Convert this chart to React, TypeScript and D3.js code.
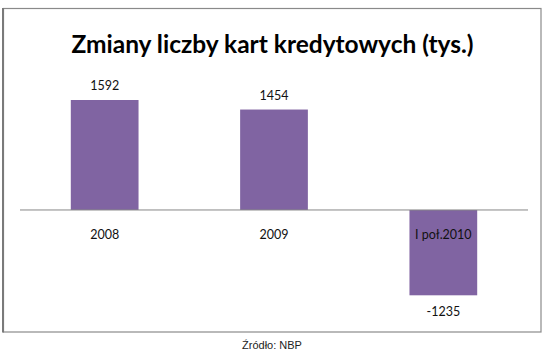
import React from "react";
import * as d3 from "d3";

const categories = ["2008", "2009", "I poł.2010"];
const values = [1592, 1454, -1235];
const valueLabels = ["1592", "1454", "-1235"];
const title = "Zmiany liczby kart kredytowych (tys.)";
const source = "Źródło: NBP";

const W = 545;
const H = 359;

export default function App() {
  const x = d3.scaleBand<string>().domain(categories).range([20, 528]).paddingInner(0.6).paddingOuter(0.3);
  const y = d3.scaleLinear().domain([-1235, 1592]).range([295.3, 100]);
  const zero = y(0);
  const bw = x.bandwidth();
  return (
    <svg width={W} height={H} style={{ position: "absolute", left: 0, top: 0, background: "#fff" }}>
      <rect x={3.5} y={8.5} width={537.5} height={323.5} fill="#fff" stroke="#8a8a8a" strokeWidth={1.2} />
      <line x1={3} x2={3} y1={8} y2={332.5} stroke="#7a7a7a" strokeWidth={2} />
      <text x={272.5} y={53} textAnchor="middle" fontFamily="Lato, 'Open Sans', sans-serif" fontWeight={700} fontSize={24.5} fill="#000">
        {title}
      </text>
      {categories.map((c, i) => {
        const v = values[i];
        const x0 = x(c)!;
        const top = Math.min(y(v), zero);
        const h = Math.abs(y(v) - zero);
        return <rect key={c} x={x0} y={top} width={bw} height={h} fill="#8064a2" />;
      })}
      <line x1={20} x2={528} y1={zero} y2={zero} stroke="#868686" strokeWidth={1} />
      {categories.map((c, i) => {
        const cx = x(c)! + bw / 2;
        return (
          <text key={"c" + c} x={cx} y={zero + 29} textAnchor="middle" fontFamily="Lato, sans-serif" fontSize={12.5} fill="#111">
            {c}
          </text>
        );
      })}
      {categories.map((c, i) => {
        const v = values[i];
        const cx = x(c)! + bw / 2;
        const ly = v >= 0 ? y(v) - 10 : y(v) + 21;
        return (
          <text key={"v" + c} x={cx} y={ly} textAnchor="middle" fontFamily="Lato, sans-serif" fontSize={12.5} fill="#111">
            {valueLabels[i]}
          </text>
        );
      })}
      <text x={272} y={349} textAnchor="middle" fontFamily="'Liberation Sans', Arial, sans-serif" fontSize={11} fill="#222">
        {source}
      </text>
    </svg>
  );
}
